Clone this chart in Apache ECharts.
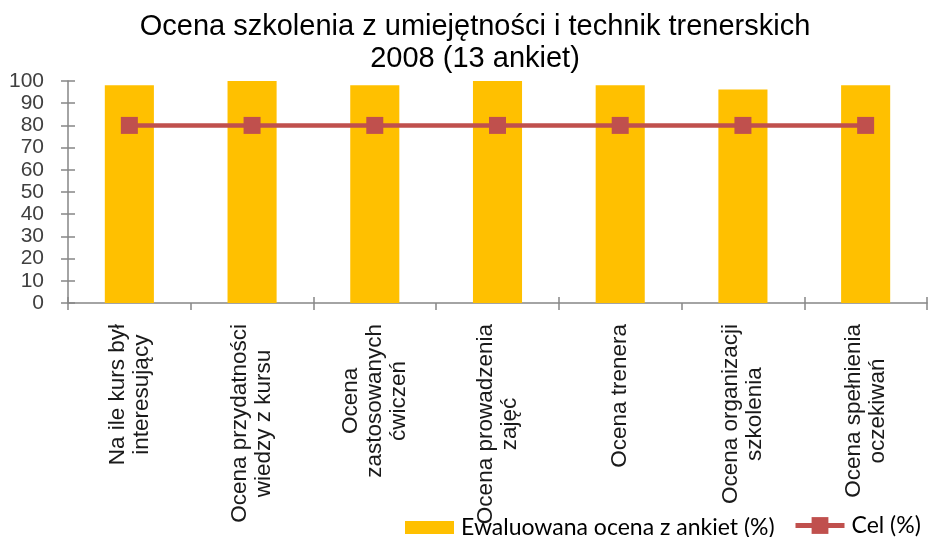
<!DOCTYPE html>
<html><head><meta charset="utf-8">
<script src="https://cdn.jsdelivr.net/npm/echarts@6/dist/echarts.min.js"></script>
<style>html,body{margin:0;padding:0;background:#fff}#c{width:928px;height:537px}</style>
</head><body><div id="c"></div>
<script>
const categories = ["Na ile kurs był\ninteresujący","Ocena przydatności\nwiedzy z kursu","Ocena\nzastosowanych\nćwiczeń","Ocena prowadzenia\nzajęć","Ocena trenera","Ocena organizacji\nszkolenia","Ocena spełnienia\noczekiwań"];
const evaluated = [98.1, 100, 98.1, 100, 98.1, 96.2, 98.1];
const target = [80, 80, 80, 80, 80, 80, 80];
const yTicks = {min: 0, max: 100, interval: 10};
const seriesNames = ['Ewaluowana ocena z ankiet (%)', 'Cel (%)'];

const chart = echarts.init(document.getElementById('c'), null, {renderer: 'canvas'});
const axisGray = '#868686';
const legendText = {fontFamily: 'Lato', fontSize: 23, color: '#000', padding: [0,0,0,2]};
chart.setOption({
  animation: false,
  backgroundColor: '#fff',
  title: {
    text: 'Ocena szkolenia z umiejętności i technik trenerskich\n2008 (13 ankiet)',
    left: 475, top: 11, textAlign: 'center', padding: 0,
    textStyle: {fontFamily: 'Liberation Sans', fontSize: 29, fontWeight: 'normal', color: '#000', lineHeight: 32}
  },
  legend: [{
    left: 405, top: 516, itemWidth: 49, itemHeight: 13, padding: 0,
    textStyle: legendText,
    data: [{name: seriesNames[0], icon: 'rect'}]
  }, {
    left: 793, top: 514, itemWidth: 49, itemHeight: 21, padding: 0,
    textStyle: legendText,
    lineStyle: {width: 5},
    data: [{name: seriesNames[1]}]
  }],
  grid: {left: 68, right: 1, top: 81, bottom: 234, containLabel: false},
  xAxis: [{
    type: 'category', data: categories,
    axisLine: {lineStyle: {color: axisGray, width: 1.5}},
    axisTick: {show: true, length: 7, lineStyle: {color: axisGray, width: 1.5}},
    axisLabel: {
      rotate: 90, margin: 21, interval: 0, color: '#1a1a1a',
      fontFamily: 'Liberation Sans', fontSize: 22.5, lineHeight: 24,
      formatter: v => v.split('\n').map(s => '{c|' + s + '}').join('\n'),
      rich: {c: {align: 'center', fontFamily: 'Liberation Sans', fontSize: 22.5, lineHeight: 24, color: '#1a1a1a'}}
    }
  }, {
    type: 'category', data: categories, position: 'bottom',
    axisLine: {show: false},
    axisTick: {show: true, inside: true, length: 6, lineStyle: {color: axisGray, width: 1.5}},
    axisLabel: {show: false}
  }],
  yAxis: [{
    type: 'value', min: yTicks.min, max: yTicks.max, interval: yTicks.interval,
    axisLine: {show: true, lineStyle: {color: axisGray, width: 1.5}},
    axisTick: {show: true, length: 7, lineStyle: {color: axisGray, width: 1.5}},
    axisLabel: {margin: 24, color: '#404040', fontFamily: 'Liberation Sans', fontSize: 21},
    splitLine: {show: false}
  }, {
    type: 'value', min: yTicks.min, max: yTicks.max, interval: yTicks.interval, position: 'left',
    axisLine: {show: false},
    axisTick: {show: true, inside: true, length: 7, lineStyle: {color: axisGray, width: 1.5}},
    axisLabel: {show: false}, splitLine: {show: false}
  }],
  series: [{
    name: seriesNames[0], type: 'bar', data: evaluated,
    barWidth: '40%', itemStyle: {color: '#FFC000'}
  }, {
    name: seriesNames[1], type: 'line', data: target,
    symbol: 'rect', symbolSize: 17,
    lineStyle: {color: '#C0504D', width: 4.5},
    itemStyle: {color: '#C0504D'}
  }]
});
</script></body></html>
